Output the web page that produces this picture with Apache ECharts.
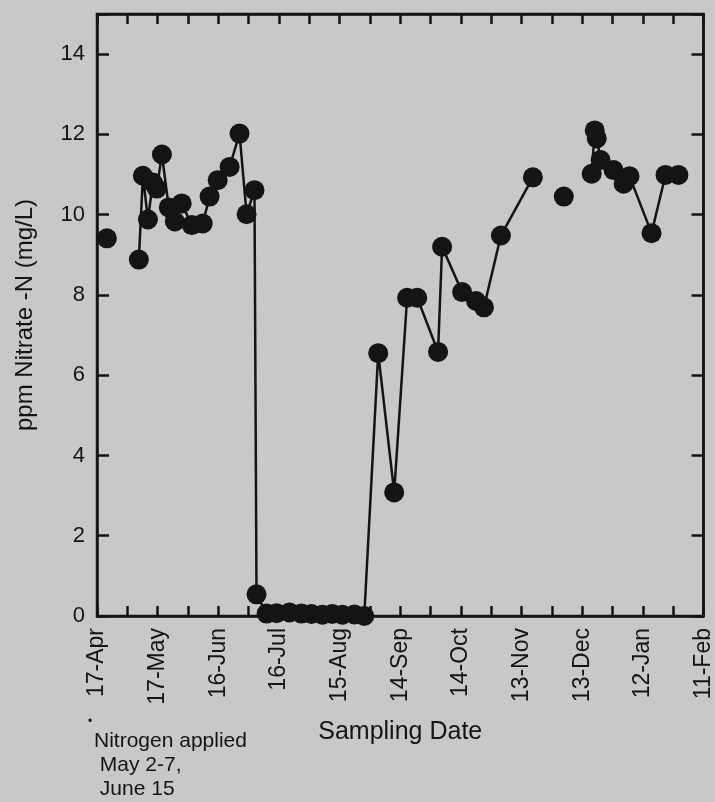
<!DOCTYPE html>
<html>
<head>
<meta charset="utf-8">
<script src="https://cdn.jsdelivr.net/npm/echarts@6/dist/echarts.min.js"></script>
<style>
  html, body { margin: 0; padding: 0; background: #c8c8c8; }
  #chart { width: 715px; height: 802px; }
</style>
</head>
<body>
<div id="chart"></div>
<script>
// days after 17-Apr
var sampleDays = [
    4.9, 20.7, 22.7, 25.2, 27.6, 29.6, 32.1, 35.5, 38.5, 41.9, 46.9, 52.3, 55.7, 59.7, 65.6, 70.5, 74.0, 77.9,
    78.9, 83.9, 88.8, 95.2, 101.1, 106.1, 111.5, 116.4, 121.4, 127.3, 132.2,
    139.1, 147.0, 153.4, 158.4, 168.7, 170.7, 180.6, 187.5, 191.4, 199.8, 215.6,
    230.9, 244.7, 246.2, 247.2, 249.1, 255.5, 260.5, 263.4, 274.3, 281.2, 287.6
];
var nitrate = [
    9.41, 8.88, 10.97, 9.88, 10.8, 10.65, 11.5, 10.18, 9.83, 10.28, 9.74, 9.78, 10.45, 10.86, 11.19, 12.02, 10.01, 10.61,
    0.54, 0.06, 0.07, 0.09, 0.06, 0.05, 0.03, 0.05, 0.03, 0.04, 0.0,
    6.55, 3.08, 7.93, 7.93, 6.58, 9.2, 8.07, 7.85, 7.69, 9.48, 10.93,
    10.45, 11.02, 12.1, 11.9, 11.36, 11.11, 10.77, 10.96, 9.54, 10.99, 10.99
];
// line is not drawn into these points
var breakBefore = [1, 40, 41];
var dateLabels = ['17-Apr', '17-May', '16-Jun', '16-Jul', '15-Aug', '14-Sep', '14-Oct', '13-Nov', '13-Dec', '12-Jan', '11-Feb'];
var yTicks = [0, 2, 4, 6, 8, 10, 12, 14];

var seriesData = [];
for (var i = 0; i < sampleDays.length; i++) {
    if (breakBefore.indexOf(i) >= 0) {
        seriesData.push([(sampleDays[i - 1] + sampleDays[i]) / 2, '-']);
    }
    seriesData.push([sampleDays[i], nitrate[i]]);
}

var ink = '#141414';
var font = 'Liberation Sans, Arial, Helvetica, sans-serif';
var tickStyle = { color: ink, width: 2.5 };

var myChart = echarts.init(document.getElementById('chart'));
myChart.setOption({
    backgroundColor: '#c8c8c8',
    animation: false,
    grid: {
        left: 97, right: 10, top: 14, bottom: 186,
        show: true, borderColor: ink, borderWidth: 2.5, backgroundColor: 'transparent'
    },
    xAxis: [
        {
            type: 'value', min: 0, max: 300, interval: 30,
            name: 'Sampling Date', nameLocation: 'middle', nameGap: 104,
            nameTextStyle: { fontFamily: font, fontSize: 25, color: ink },
            axisLine: { show: true, onZero: false, lineStyle: tickStyle },
            axisTick: { show: true, inside: true, length: 10, lineStyle: tickStyle },
            minorTick: { show: true, splitNumber: 2, length: 10, lineStyle: tickStyle },
            splitLine: { show: false },
            axisLabel: {
                rotate: 90, margin: 12, fontFamily: font, fontSize: 23, color: ink,
                formatter: function (v) { return dateLabels[Math.round(v / 30)] || ''; }
            }
        },
        {
            type: 'value', min: 0, max: 300, interval: 30, position: 'top',
            axisLine: { show: true, onZero: false, lineStyle: tickStyle },
            axisTick: { show: true, inside: true, length: 10, lineStyle: tickStyle },
            minorTick: { show: true, splitNumber: 2, length: 10, lineStyle: tickStyle },
            splitLine: { show: false },
            axisLabel: { show: false }
        }
    ],
    yAxis: [
        {
            type: 'value', min: 0, max: 15, interval: 2,
            name: 'ppm Nitrate -N (mg/L)', nameLocation: 'middle', nameGap: 60,
            nameTextStyle: { fontFamily: font, fontSize: 24, color: ink },
            axisLine: { show: true, onZero: false, lineStyle: tickStyle },
            axisTick: { show: true, inside: true, length: 12, lineStyle: tickStyle },
            splitLine: { show: false },
            axisLabel: {
                margin: 12, fontFamily: font, fontSize: 22, color: ink,
                formatter: function (v) { return yTicks.indexOf(v) >= 0 ? String(v) : ''; }
            }
        },
        {
            type: 'value', min: 0, max: 15, interval: 2, position: 'right',
            axisLine: { show: true, onZero: false, lineStyle: tickStyle },
            axisTick: { show: true, inside: true, length: 12, lineStyle: tickStyle },
            splitLine: { show: false },
            axisLabel: { show: false }
        }
    ],
    series: [
        {
            type: 'line',
            data: seriesData,
            connectNulls: false,
            symbol: 'circle',
            symbolSize: 20,
            lineStyle: { color: ink, width: 2.5 },
            itemStyle: { color: ink }
        }
    ],
    graphic: [
        { type: 'text', left: 88, top: 716, style: { text: '•', fontSize: 12, fill: ink, fontFamily: font } },
        {
            type: 'text', left: 94, top: 729,
            style: {
                text: 'Nitrogen applied\n May 2-7,\n June 15',
                fontFamily: 'Liberation Sans Narrow, Arial Narrow, ' + font,
                fontSize: 21, lineHeight: 24, fill: ink
            }
        }
    ]
});
</script>
</body>
</html>
